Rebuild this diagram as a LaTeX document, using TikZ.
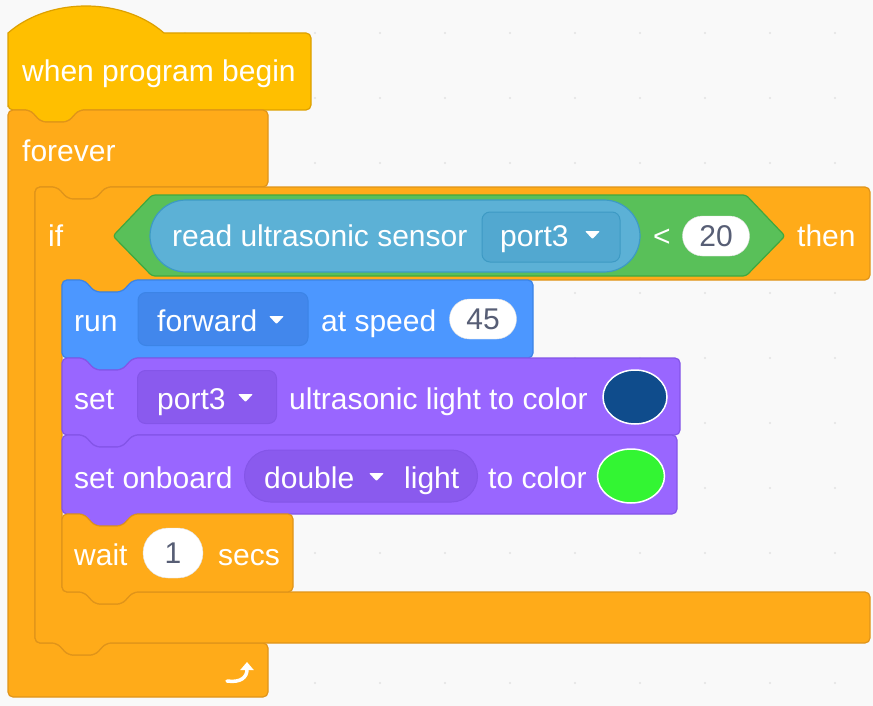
\documentclass[tikz,border=0pt]{standalone}
\usepackage{fontspec}
\setmainfont{Liberation Sans}
\usetikzlibrary{shapes.misc,shapes.geometric,arrows.meta}

\definecolor{canvas}{HTML}{F9F9F9}
\definecolor{griddot}{HTML}{E2E2E2}
\definecolor{hatfill}{HTML}{FFBF00}
\definecolor{hatline}{HTML}{DDA000}
\definecolor{ctrlfill}{HTML}{FFAB19}
\definecolor{ctrlline}{HTML}{E0941A}
\definecolor{opfill}{HTML}{59C059}
\definecolor{opline}{HTML}{3FA83F}
\definecolor{sensefill}{HTML}{5CB1D6}
\definecolor{senseline}{HTML}{3D9AC4}
\definecolor{sensedd}{HTML}{52A8D0}
\definecolor{motionfill}{HTML}{4C97FF}
\definecolor{motionline}{HTML}{3C84E6}
\definecolor{motiondd}{HTML}{4287EC}
\definecolor{extfill}{HTML}{9966FF}
\definecolor{extline}{HTML}{8455E8}
\definecolor{extdd}{HTML}{8A5AEE}
\definecolor{numtext}{HTML}{575E75}
\definecolor{swatchblue}{HTML}{0F4C8C}
\definecolor{swatchgreen}{HTML}{33F533}

\newcommand{\blkfont}{\fontsize{30}{36}\selectfont}

\tikzset{
  blk/.style={line width=1.2pt, rounded corners=5pt},
  lbl/.style={anchor=base west, inner sep=0pt, text=white, font=\blkfont},
  numin/.style={rounded rectangle, fill=white, draw=black!12, inner sep=0pt,
    minimum height=40pt, text=numtext, font=\blkfont},
  ddbox/.style={rectangle, rounded corners=8pt, draw, line width=1pt, inner sep=0pt},
  swatch/.style={ellipse, draw=white, line width=1.5pt, inner sep=0pt},
  ddarrow/.style={fill=white, rounded corners=1pt},
}

\begin{document}
\begin{tikzpicture}[x=1pt, y=-1pt]
  \useasboundingbox (0,0) rectangle (873,706);
  \fill[canvas] (0,0) rectangle (873,706);
  % grid of the canvas
  \foreach \gx in {55,120,...,835}
    \foreach \gy in {33,98,...,683}
      \fill[griddot] (\gx,\gy) circle (1.1pt);

  % hat block
  \draw[line width=1.2pt, fill=hatfill, draw=hatline]
    (8,110) -- (8,33) .. controls (49,-3) and (123,-3) .. (164,33)
    [rounded corners=5pt] -- (311,33) -- (311,110) -- (79,110) -- (68,122)
    -- (41,122) -- (30,110) -- (8,110) -- cycle;

  % forever
  \draw[blk, fill=ctrlfill, draw=ctrlline]
    (8,110) -- (30,110) -- (41,122) -- (68,122) -- (79,110) -- (268,110)
    -- (268,187) -- (106,187) -- (95,199) -- (68,199) -- (57,187) -- (35,187)
    -- (35,643) -- (57,643) -- (68,655) -- (95,655) -- (106,643) -- (268,643)
    -- (268,697) -- (8,697) -- cycle;

  % if ... then
  \draw[blk, fill=ctrlfill, draw=ctrlline]
    (35,187) -- (57,187) -- (68,199) -- (95,199) -- (106,187) -- (870,187)
    -- (870,280) -- (133,280) -- (122,292) -- (95,292) -- (84,280) -- (62,280)
    -- (62,592) -- (84,592) -- (95,604) -- (122,604) -- (133,592) -- (870,592)
    -- (870,643) -- (106,643) -- (95,655) -- (68,655) -- (57,643) -- (35,643) -- cycle;

  % condition
  \draw[blk, fill=opfill, draw=opline, rounded corners=3pt]
    (113,236) -- (152,195) -- (746,195) -- (785,236) -- (746,276) -- (152,276) -- cycle;
  \node[rounded rectangle, fill=sensefill, draw=senseline, line width=1.2pt,
    minimum width=490pt, minimum height=72pt, inner sep=0pt] (sensor) at (395,236) {};
  \node[ddbox, fill=sensedd, draw=senseline, minimum width=138pt,
    minimum height=50pt] (sensorport) at (551,237) {};
  \node[numin, minimum width=67pt] (limit) at (716,236) {20};

  % run
  \draw[blk, fill=motionfill, draw=motionline]
    (62,280) -- (84,280) -- (95,292) -- (122,292) -- (133,280) -- (533,280)
    -- (533,358) -- (133,358) -- (122,370) -- (95,370) -- (84,358) -- (62,358) -- cycle;
  \node[ddbox, fill=motiondd, draw=motionline, minimum width=170pt,
    minimum height=53pt] (dirbox) at (223,319) {};
  \node[numin, minimum width=67pt] (speed) at (483,319) {45};

  % set port3 color
  \draw[blk, fill=extfill, draw=extline]
    (62,358) -- (84,358) -- (95,370) -- (122,370) -- (133,358) -- (680,358)
    -- (680,435) -- (133,435) -- (122,447) -- (95,447) -- (84,435) -- (62,435) -- cycle;
  \node[ddbox, fill=extdd, draw=extline, minimum width=139pt,
    minimum height=53pt] (portbox) at (207,397) {};
  \node[swatch, fill=swatchblue, minimum width=64pt, minimum height=54pt] (darkled) at (635,397) {};

  % set onboard color
  \draw[blk, fill=extfill, draw=extline]
    (62,435) -- (84,435) -- (95,447) -- (122,447) -- (133,435) -- (677,435)
    -- (677,514) -- (133,514) -- (122,526) -- (95,526) -- (84,514) -- (62,514) -- cycle;
  \node[rounded rectangle, fill=extdd, draw=extline, line width=1pt, inner sep=0pt,
    minimum width=233pt, minimum height=52pt] (onboard) at (361,476) {};
  \node[swatch, fill=swatchgreen, minimum width=67pt, minimum height=54pt] (greenled) at (631,476) {};

  % wait
  \draw[blk, fill=ctrlfill, draw=ctrlline]
    (62,514) -- (84,514) -- (95,526) -- (122,526) -- (133,514) -- (293,514)
    -- (293,592) -- (133,592) -- (122,604) -- (95,604) -- (84,592) -- (62,592) -- cycle;
  \node[numin, minimum width=60pt, minimum height=50pt] (delay) at (173,553) {1};

  % dropdown arrows
  \fill[ddarrow] (585,231) -- (600,231) -- (592.5,239) -- cycle;
  \fill[ddarrow] (269,316) -- (284,316) -- (276.5,324) -- cycle;
  \fill[ddarrow] (238,394) -- (253,394) -- (245.5,402) -- cycle;
  \fill[ddarrow] (369,473) -- (384,473) -- (376.5,481) -- cycle;

  % loop icon
  \draw[white, line width=3.5pt, line cap=round, -{Triangle[length=8pt,width=13pt]}]
    (227,681) .. controls (241,683) and (247,677) .. (247,662);

  % labels
  \node[lbl] (hat) at (22,82) {when program begin};
  \node[lbl] (forever) at (22,161) {forever};
  \node[lbl] (ifkw) at (48,246) {if};
  \node[lbl] (readsensor) at (172,246) {read ultrasonic sensor};
  \node[lbl] (sensorportlbl) at (500,246) {port3};
  \node[lbl] (less) at (653,246) {<};
  \node[lbl] (thenkw) at (797,246) {then};
  \node[lbl] (runkw) at (74,331) {run};
  \node[lbl] (dirlbl) at (157,331) {forward};
  \node[lbl] (atspeed) at (321,331) {at speed};
  \node[lbl] (setkw) at (74,409) {set};
  \node[lbl] (portlbl) at (157,409) {port3};
  \node[lbl] (ultralight) at (289,409) {ultrasonic light to color};
  \node[lbl] (setonboard) at (74,488) {set onboard};
  \node[lbl] (doublelbl) at (264,488) {double};
  \node[lbl] (lightlbl) at (404,488) {light};
  \node[lbl] (tocolor) at (488,488) {to color};
  \node[lbl] (waitkw) at (74,565) {wait};
  \node[lbl] (secs) at (218,565) {secs};
\end{tikzpicture}
\end{document}
